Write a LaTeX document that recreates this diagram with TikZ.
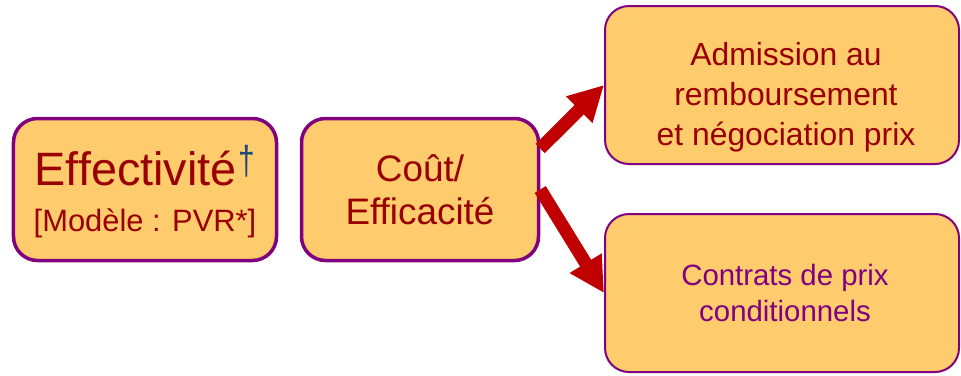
\documentclass[tikz,border=0pt]{standalone}
\usepackage{fontspec}
\setmainfont{Liberation Sans}
\usetikzlibrary{arrows.meta}
\definecolor{boxfill}{RGB}{254,204,108}
\definecolor{boxline}{RGB}{128,0,128}
\definecolor{txtred}{RGB}{153,0,0}
\definecolor{txtpurple}{RGB}{128,0,128}
\definecolor{arrowred}{RGB}{192,0,0}
\definecolor{dagblue}{RGB}{31,73,125}
\begin{document}
\begin{tikzpicture}[x=1bp,y=-1bp,
  box/.style={draw=boxline, fill=boxfill, rounded corners=24bp, inner sep=0pt},
  thickbox/.style={box, line width=3.5bp},
  thinbox/.style={box, line width=2bp},
  txt/.style={align=center, inner sep=0pt, text=txtred},
  bigarrow/.style={draw=arrowred, line width=13bp, -{Triangle[width=35bp,length=35bp]}}
]
\useasboundingbox (0,0) rectangle (961,375);
\node[thickbox, minimum width=263bp, minimum height=142bp] (b1) at (145,189.5) {};
\node[thickbox, minimum width=237bp, minimum height=142bp] (b2) at (420,189.5) {};
\node[thinbox, minimum width=354bp, minimum height=158bp] (b3) at (782,85) {};
\node[thinbox, minimum width=354bp, minimum height=158bp] (b4) at (782,293) {};
\node[txt, font=\fontsize{31}{47}\selectfont] (t1) at ([yshift=-2bp]b1.center)
  {{\fontsize{47}{47}\selectfont Effectivité\hspace{2bp}\raisebox{11bp}{\scalebox{1}[1.35]{\fontsize{30}{30}\selectfont\color{dagblue}†}}}\\{[}Modèle : PVR*{]}};
\node[txt, font=\fontsize{37}{43}\selectfont] (t2) at (b2.center) {Coût/\\Efficacité};
\node[txt, font=\fontsize{32}{40}\selectfont] (t3) at ([xshift=4bp,yshift=-12bp]b3.center)
  {Admission au\\remboursement\\et négociation prix};
\node[txt, text=txtpurple, font=\fontsize{29.5}{36}\selectfont] (t4) at ([xshift=3bp]b4.center)
  {Contrats de prix\\conditionnels};
\draw[bigarrow] ([yshift=41bp]b2.east) -- (b3.west);
\draw[bigarrow] (b2.east) -- (b4.west);
\end{tikzpicture}
\end{document}
